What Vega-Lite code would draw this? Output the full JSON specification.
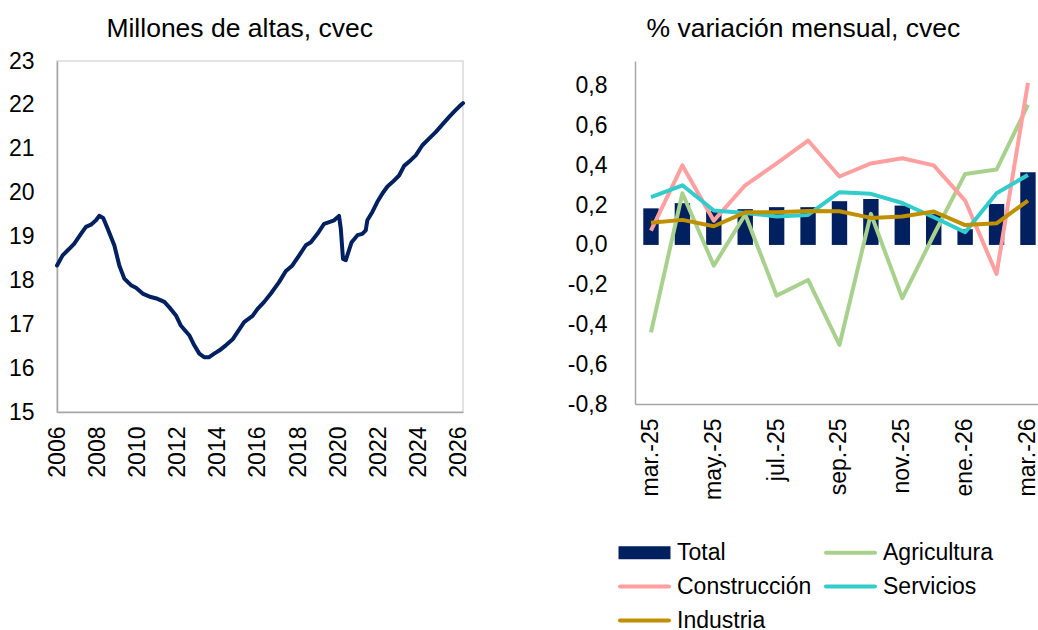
{
  "$schema": "https://vega.github.io/schema/vega-lite/v6.json",
  "padding": {"left": 7, "top": 14, "right": 0, "bottom": 0},
  "spacing": 95,
  "config": {
    "font": "Liberation Sans",
    "view": {"stroke": "#d9d9d9", "strokeWidth": 1.5},
    "axis": {"grid": false, "ticks": false, "domainColor": "#a6a6a6", "domainWidth": 1.5, "labelFontSize": 23, "labelColor": "#000000", "title": null},
    "title": {"fontSize": 26.5, "fontWeight": "normal", "color": "#000000", "frame": "bounds", "anchor": "middle"}
  },
  "hconcat": [
    {
      "width": 406,
      "height": 351,
      "title": {"text": "Millones de altas, cvec", "offset": 8},
      "data": {"values": [
        {"t":2006.00,"v":18.34},{"t":2006.28,"v":18.57},{"t":2006.61,"v":18.72},{"t":2006.86,"v":18.84},
        {"t":2007.19,"v":19.06},{"t":2007.44,"v":19.22},{"t":2007.69,"v":19.27},{"t":2007.94,"v":19.37},
        {"t":2008.10,"v":19.47},{"t":2008.30,"v":19.42},{"t":2008.52,"v":19.18},{"t":2008.85,"v":18.80},
        {"t":2009.10,"v":18.34},{"t":2009.35,"v":18.04},{"t":2009.68,"v":17.89},{"t":2009.93,"v":17.83},
        {"t":2010.26,"v":17.70},{"t":2010.67,"v":17.62},{"t":2011.00,"v":17.58},{"t":2011.34,"v":17.51},
        {"t":2011.58,"v":17.39},{"t":2011.92,"v":17.20},{"t":2012.16,"v":16.97},{"t":2012.33,"v":16.88},
        {"t":2012.58,"v":16.75},{"t":2012.83,"v":16.52},{"t":2013.08,"v":16.33},{"t":2013.32,"v":16.25},
        {"t":2013.57,"v":16.25},{"t":2013.82,"v":16.33},{"t":2014.07,"v":16.40},{"t":2014.40,"v":16.52},
        {"t":2014.73,"v":16.65},{"t":2014.98,"v":16.82},{"t":2015.31,"v":17.05},{"t":2015.73,"v":17.19},
        {"t":2015.98,"v":17.35},{"t":2016.31,"v":17.51},{"t":2016.64,"v":17.70},{"t":2017.05,"v":17.96},
        {"t":2017.38,"v":18.21},{"t":2017.71,"v":18.34},{"t":2018.05,"v":18.57},{"t":2018.38,"v":18.80},
        {"t":2018.63,"v":18.87},{"t":2018.96,"v":19.06},{"t":2019.29,"v":19.29},{"t":2019.54,"v":19.33},
        {"t":2019.79,"v":19.37},{"t":2020.03,"v":19.47},{"t":2020.12,"v":19.18},{"t":2020.23,"v":18.49},
        {"t":2020.37,"v":18.46},{"t":2020.50,"v":18.65},{"t":2020.66,"v":18.87},{"t":2020.95,"v":19.03},
        {"t":2021.19,"v":19.06},{"t":2021.36,"v":19.14},{"t":2021.44,"v":19.37},{"t":2021.69,"v":19.56},
        {"t":2021.94,"v":19.79},{"t":2022.19,"v":19.98},{"t":2022.44,"v":20.14},{"t":2022.69,"v":20.24},
        {"t":2023.02,"v":20.39},{"t":2023.27,"v":20.61},{"t":2023.60,"v":20.74},{"t":2023.85,"v":20.85},
        {"t":2024.18,"v":21.08},{"t":2024.51,"v":21.23},{"t":2024.84,"v":21.38},{"t":2025.17,"v":21.55},
        {"t":2025.50,"v":21.72},{"t":2025.83,"v":21.88},{"t":2026.08,"v":21.99},{"t":2026.20,"v":22.04}
      ]},
      "mark": {"type": "line", "color": "#002060", "strokeWidth": 4, "strokeJoin": "round", "strokeCap": "round"},
      "encoding": {
        "x": {"field": "t", "type": "quantitative",
              "scale": {"domain": [2006, 2026.2], "nice": false, "zero": false},
              "axis": {"values": [2006,2008,2010,2012,2014,2016,2018,2020,2022,2024,2026], "format": "d", "labelAngle": -90, "labelPadding": 14}},
        "y": {"field": "v", "type": "quantitative",
              "scale": {"domain": [15, 23], "nice": false, "zero": false},
              "axis": {"values": [15,16,17,18,19,20,21,22,23], "labelPadding": 23}}
      }
    },
    {
      "width": 403,
      "height": 343,
      "view": {"stroke": null},
      "title": {"text": "% variación mensual, cvec", "offset": 19},
      "data": {"values": [
        {"m":"mar.-25","s":"Total","v":0.184},{"m":"abr.-25","s":"Total","v":0.21},{"m":"may.-25","s":"Total","v":0.17},
        {"m":"jun.-25","s":"Total","v":0.18},{"m":"jul.-25","s":"Total","v":0.19},{"m":"ago.-25","s":"Total","v":0.19},
        {"m":"sep.-25","s":"Total","v":0.22},{"m":"oct.-25","s":"Total","v":0.231},{"m":"nov.-25","s":"Total","v":0.198},
        {"m":"dic.-25","s":"Total","v":0.155},{"m":"ene.-26","s":"Total","v":0.079},{"m":"feb.-26","s":"Total","v":0.206},
        {"m":"mar.-26","s":"Total","v":0.366},
        {"m":"mar.-25","s":"Agricultura","v":-0.44},{"m":"abr.-25","s":"Agricultura","v":0.26},{"m":"may.-25","s":"Agricultura","v":-0.104},
        {"m":"jun.-25","s":"Agricultura","v":0.153},{"m":"jul.-25","s":"Agricultura","v":-0.255},{"m":"ago.-25","s":"Agricultura","v":-0.176},
        {"m":"sep.-25","s":"Agricultura","v":-0.503},{"m":"oct.-25","s":"Agricultura","v":0.156},{"m":"nov.-25","s":"Agricultura","v":-0.268},
        {"m":"dic.-25","s":"Agricultura","v":0.05},{"m":"ene.-26","s":"Agricultura","v":0.357},{"m":"feb.-26","s":"Agricultura","v":0.379},
        {"m":"mar.-26","s":"Agricultura","v":0.704},
        {"m":"mar.-25","s":"Construcción","v":0.072},{"m":"abr.-25","s":"Construcción","v":0.40},{"m":"may.-25","s":"Construcción","v":0.122},
        {"m":"jun.-25","s":"Construcción","v":0.30},{"m":"jul.-25","s":"Construcción","v":0.41},{"m":"ago.-25","s":"Construcción","v":0.525},
        {"m":"sep.-25","s":"Construcción","v":0.344},{"m":"oct.-25","s":"Construcción","v":0.41},{"m":"nov.-25","s":"Construcción","v":0.436},
        {"m":"dic.-25","s":"Construcción","v":0.40},{"m":"ene.-26","s":"Construcción","v":0.223},{"m":"feb.-26","s":"Construcción","v":-0.146},
        {"m":"mar.-26","s":"Construcción","v":0.815},
        {"m":"mar.-25","s":"Servicios","v":0.24},{"m":"abr.-25","s":"Servicios","v":0.30},{"m":"may.-25","s":"Servicios","v":0.173},
        {"m":"jun.-25","s":"Servicios","v":0.161},{"m":"jul.-25","s":"Servicios","v":0.143},{"m":"ago.-25","s":"Servicios","v":0.151},
        {"m":"sep.-25","s":"Servicios","v":0.265},{"m":"oct.-25","s":"Servicios","v":0.257},{"m":"nov.-25","s":"Servicios","v":0.211},
        {"m":"dic.-25","s":"Servicios","v":0.139},{"m":"ene.-26","s":"Servicios","v":0.064},{"m":"feb.-26","s":"Servicios","v":0.26},
        {"m":"mar.-26","s":"Servicios","v":0.352},
        {"m":"mar.-25","s":"Industria","v":0.111},{"m":"abr.-25","s":"Industria","v":0.126},{"m":"may.-25","s":"Industria","v":0.094},
        {"m":"jun.-25","s":"Industria","v":0.164},{"m":"jul.-25","s":"Industria","v":0.164},{"m":"ago.-25","s":"Industria","v":0.171},
        {"m":"sep.-25","s":"Industria","v":0.169},{"m":"oct.-25","s":"Industria","v":0.136},{"m":"nov.-25","s":"Industria","v":0.143},
        {"m":"dic.-25","s":"Industria","v":0.168},{"m":"ene.-26","s":"Industria","v":0.10},{"m":"feb.-26","s":"Industria","v":0.109},
        {"m":"mar.-26","s":"Industria","v":0.223}
      ]},
      "encoding": {
        "x": {"field": "m", "type": "nominal",
              "scale": {"domain": ["mar.-25","abr.-25","may.-25","jun.-25","jul.-25","ago.-25","sep.-25","oct.-25","nov.-25","dic.-25","ene.-26","feb.-26","mar.-26"], "paddingInner": 0.51, "paddingOuter": 0.169, "align": 0.78},
              "axis": {"values": ["mar.-25","may.-25","jul.-25","sep.-25","nov.-25","ene.-26","mar.-26"], "labelAngle": -90, "labelPadding": 14}},
        "y": {"field": "v", "type": "quantitative",
              "scale": {"domain": [-0.8, 0.925], "nice": false, "zero": false},
              "axis": {"values": [-0.8,-0.6,-0.4,-0.2,0,0.2,0.4,0.6,0.8], "labelPadding": 28,
                       "labelExpr": "(datum.value < 0 ? '-' : '') + replace(format(abs(datum.value), '.1f'), '.', ',')"}}
      },
      "layer": [
        {
          "data": {"values": [{}]},
          "mark": {"type": "rule", "color": "#d9d9d9", "strokeWidth": 1.5},
          "encoding": {"x": null, "y": {"datum": 0.9}}
        },
        {
          "transform": [{"filter": "datum.s === 'Total'"}],
          "mark": {"type": "bar"},
          "encoding": {
            "color": {"field": "s", "type": "nominal",
                      "scale": {"domain": ["Total","Agricultura","Construcción","Servicios","Industria"],
                                "range": ["#002060","#A9D18E","#FF9F9F","#33CCCC","#BF9000"]},
                      "legend": {"orient": "none", "legendX": 576, "legendY": 480, "columns": 2, "direction": "horizontal", "title": null,
                                 "symbolType": "square", "symbolSize": 400, "symbolStrokeWidth": 0,
                                 "labelFontSize": 23, "labelColor": "#000000", "labelOffset": 21, "labelLimit": 400,
                                 "columnPadding": 12, "rowPadding": 10,
                                 "encode": {"symbols": {"update": {
                                   "shape": {"signal": "datum.value === 'Total' ? 'M-2.6,-0.65H2.6V0.65H-2.6Z' : 'M-2.45,-0.2H2.45A0.2,0.2 0 0 1 2.45,0.2H-2.45A0.2,0.2 0 0 1 -2.45,-0.2Z'"},
                                   "strokeWidth": {"value": 0},
                                   "fill": {"signal": "datum.value === 'Total' ? '#002060' : datum.value === 'Agricultura' ? '#A9D18E' : datum.value === 'Construcción' ? '#FF9F9F' : datum.value === 'Servicios' ? '#33CCCC' : '#BF9000'"},
                                   "opacity": {"value": 1},
                                   "fillOpacity": {"value": 1}
                                 }}}}
            }
          }
        },
        {
          "data": {"values": [{}]},
          "mark": {"type": "rule", "color": "#d9d9d9", "strokeWidth": 2},
          "encoding": {"x": null, "y": {"datum": 0}}
        },
        {
          "transform": [{"filter": "datum.s !== 'Total'"}],
          "mark": {"type": "line", "strokeWidth": 4, "strokeJoin": "round"},
          "encoding": {
            "color": {"field": "s", "type": "nominal"}
          }
        }
      ]
    }
  ]
}
